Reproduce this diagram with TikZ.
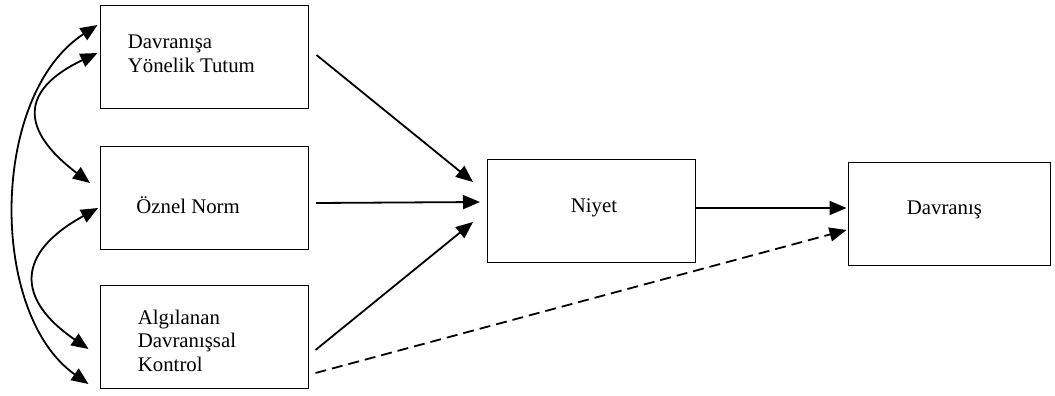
\documentclass[tikz,border=0pt]{standalone}
\usepackage{fontspec}
\setmainfont{Liberation Serif}
\usetikzlibrary{arrows.meta}

\begin{document}
\begin{tikzpicture}[x=0.5pt,y=-0.5pt,
    box/.style={draw,line width=0.5pt,minimum width=104pt,minimum height=51.5pt,inner sep=0pt},
    lbl/.style={anchor=west,align=left,inner sep=0pt,font=\fontsize{10.4}{11.8}\selectfont},
    arr/.style={line width=0.9pt,-{Triangle[length=8.5pt,width=7pt]}},
    dblarr/.style={line width=0.9pt,{Triangle[length=8.5pt,width=7pt]}-{Triangle[length=8.5pt,width=7pt]}}]
    \useasboundingbox (0,0) rectangle (1055,396);
    %% boxes
    \node[box] (tutum) at (204,57) {};
    \node[box] (oznel) at (204.5,198) {};
    \node[box] (algilanan) at (204,336.5) {};
    \node[box] (niyet) at (591.5,210.5) {};
    \node[box,minimum width=101pt] (davranis) at (949,213.5) {};
    %% labels
    \node[lbl] at ([xshift=14pt,yshift=1.75pt]tutum.west) {Davranışa\\Yönelik Tutum};
    \node[lbl] at ([xshift=18pt,yshift=-3.5pt]oznel.west) {Öznel Norm};
    \node[lbl] at ([xshift=19pt,yshift=-2pt]algilanan.west) {Algılanan\\Davranışsal\\Kontrol};
    \node[lbl,anchor=center] at ([xshift=1.25pt,yshift=1.5pt]niyet.center) {Niyet};
    \node[lbl] at ([xshift=29.5pt,yshift=1.75pt]davranis.west) {Davranış};
    %% into Niyet
    \draw[arr] ([xshift=4pt,yshift=1pt]tutum.east) -- ([xshift=-7pt,yshift=14.25pt]niyet.west);
    \draw[arr] ([xshift=3.5pt,yshift=-2.5pt]oznel.east) -- ([xshift=-3.5pt,yshift=4.25pt]niyet.west);
    \draw[arr] ([xshift=3.5pt,yshift=-6.75pt]algilanan.east) -- ([xshift=-7pt,yshift=-5.75pt]niyet.west);
    %% into Davranis
    \draw[arr] ([yshift=1.25pt]niyet.east) -- ([xshift=-0.5pt,yshift=2.75pt]davranis.west);
    \draw[arr,dash pattern=on 5.5pt off 3pt] ([xshift=3.5pt,yshift=-18.25pt]algilanan.east) -- ([xshift=-0.5pt,yshift=-8.25pt]davranis.west);
    %% correlations
    \draw[dblarr] ([xshift=-1pt,yshift=16pt]tutum.west) .. controls +(-108,70) and +(-100,-70) .. ([xshift=-5.5pt,yshift=-23.75pt]algilanan.west);
    \draw[dblarr] ([xshift=-1pt,yshift=2pt]tutum.west) .. controls +(-78,37) and +(-70,-53) .. ([xshift=-5pt,yshift=7.5pt]oznel.west);
    \draw[dblarr] ([xshift=-1pt,yshift=-5pt]oznel.west) .. controls +(-82,45) and +(-73,-50) .. ([xshift=-5.5pt,yshift=-6.25pt]algilanan.west);
\end{tikzpicture}
\end{document}
